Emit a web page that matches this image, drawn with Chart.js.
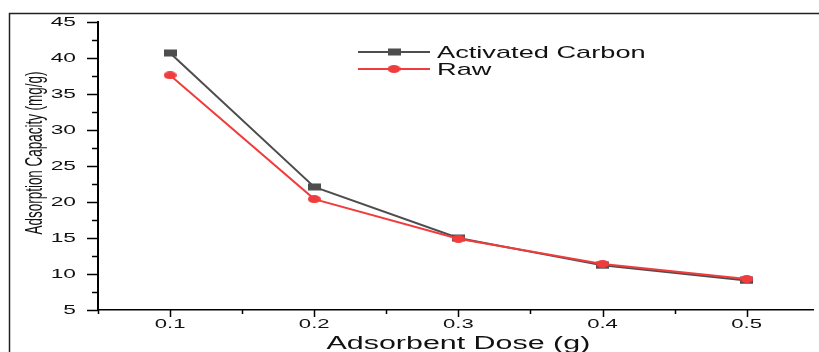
<html>
<head>
    <title>Adsorbent Dose</title>
    <style>
        body { margin: 0; background: #fff; }
        canvas { display: block; }
    </style>
    <script src="https://cdn.jsdelivr.net/npm/chart.js"></script>
</head>
<body>
    <canvas id="doseChart" width="819" height="352"></canvas>
    <script>
        // data
        var doses = [0.1, 0.2, 0.3, 0.4, 0.5];
        var activatedCarbon = [40.7, 22.1, 15.0, 11.2, 9.1];
        var raw = [37.6, 20.4, 14.9, 11.4, 9.3];
        var seriesNames = ['Activated Carbon', 'Raw'];
        var yTickLabels = [5, 10, 15, 20, 25, 30, 35, 40, 45];
        var xTickLabels = [0.1, 0.2, 0.3, 0.4, 0.5];
        var xTitle = 'Adsorbent Dose (g)';
        var yTitle = 'Adsorption Capacity (mg/g)';

        var grey = '#4d4d4d';
        var red = '#f03c3c';
        var font = "'Liberation Sans', Arial, sans-serif";

        // flattened markers, the figure is stretched sideways
        function marker(kind, color) {
            var c = document.createElement('canvas');
            c.width = 13; c.height = 8;
            var g = c.getContext('2d');
            g.fillStyle = color;
            if (kind === 'rect') {
                g.fillRect(0, 0.5, 13, 7);
            } else {
                g.beginPath();
                g.ellipse(6.5, 4, 6.5, 4, 0, 0, Math.PI * 2);
                g.fill();
            }
            return c;
        }
        var squareMark = marker('rect', grey);
        var roundMark = marker('circle', red);

        function points(ys) {
            return doses.map(function (d, i) { return { x: d, y: ys[i] }; });
        }

        function wideText(ctx, text, x, y, align, sx) {
            ctx.save();
            ctx.translate(x, y);
            ctx.scale(sx, 1);
            ctx.textAlign = align;
            ctx.fillText(text, 0, 0);
            ctx.restore();
        }

        var decorations = {
            id: 'decorations',
            afterDraw: function (chart) {
                var ctx = chart.ctx;
                var xs = chart.scales.x, ys = chart.scales.y;
                var area = chart.chartArea;
                ctx.save();

                // outer frame (cut off at right and bottom)
                ctx.strokeStyle = '#222';
                ctx.lineWidth = 1.5;
                ctx.beginPath();
                ctx.moveTo(9.5, 352);
                ctx.lineTo(9.5, 13.5);
                ctx.lineTo(819, 13.5);
                ctx.stroke();

                // ticks
                ctx.strokeStyle = '#000';
                ctx.lineWidth = 1.5;
                ctx.beginPath();
                for (var v = 5; v <= 45; v += 2.5) {
                    var py = Math.round(ys.getPixelForValue(v)) + 0.5;
                    var len = (v % 5 === 0) ? 11 : 6;
                    ctx.moveTo(area.left, py);
                    ctx.lineTo(area.left - len, py);
                }
                for (var k = 1; k <= 11; k++) {
                    var xv = k * 0.05;
                    if (xv > xs.max) break;
                    var px = Math.round(xs.getPixelForValue(xv)) + 0.5;
                    var l2 = (k % 2 === 0) ? 7 : 4;
                    ctx.moveTo(px, area.bottom);
                    ctx.lineTo(px, area.bottom + l2);
                }
                ctx.stroke();

                // tick labels
                ctx.fillStyle = '#111';
                ctx.font = '13px ' + font;
                ctx.textBaseline = 'middle';
                yTickLabels.forEach(function (t) {
                    wideText(ctx, String(t), 76, ys.getPixelForValue(t) + 0.5, 'right', 1.75);
                });
                xTickLabels.forEach(function (t) {
                    wideText(ctx, t.toFixed(1), xs.getPixelForValue(t), 324, 'center', 1.7);
                });

                // axis titles
                ctx.textBaseline = 'alphabetic';
                ctx.font = '18px ' + font;
                wideText(ctx, xTitle, xs.getPixelForValue(0.3), 349, 'center', 1.69);

                ctx.save();
                ctx.translate(35, 153);
                ctx.rotate(-Math.PI / 2);
                ctx.scale(0.84, 1.5);
                ctx.font = '16px ' + font;
                ctx.textAlign = 'center';
                ctx.textBaseline = 'middle';
                ctx.fillText(yTitle, 0, 0);
                ctx.restore();

                // legend
                var rows = [
                    { name: seriesNames[0], color: grey, mark: squareMark, y: 52 },
                    { name: seriesNames[1], color: red, mark: roundMark, y: 69 }
                ];
                rows.forEach(function (r) {
                    ctx.strokeStyle = r.color;
                    ctx.lineWidth = 2;
                    ctx.beginPath();
                    ctx.moveTo(358, r.y);
                    ctx.lineTo(430, r.y);
                    ctx.stroke();
                    ctx.drawImage(r.mark, 394 - 6.5, r.y - 4);
                    ctx.fillStyle = '#111';
                    ctx.font = '17px ' + font;
                    ctx.textBaseline = 'alphabetic';
                    wideText(ctx, r.name, 437, r.y + 6, 'left', 1.6);
                });

                ctx.restore();
            }
        };

        var ctx = document.getElementById('doseChart').getContext('2d');
        var doseChart = new Chart(ctx, {
            type: 'line',
            data: {
                datasets: [
                    {
                        label: seriesNames[0],
                        data: points(activatedCarbon),
                        borderColor: grey,
                        backgroundColor: grey,
                        borderWidth: 2,
                        pointStyle: squareMark,
                        order: 2
                    },
                    {
                        label: seriesNames[1],
                        data: points(raw),
                        borderColor: red,
                        backgroundColor: red,
                        borderWidth: 2,
                        pointStyle: roundMark,
                        order: 1
                    }
                ]
            },
            options: {
                responsive: false,
                animation: false,
                devicePixelRatio: 1,
                layout: { padding: { top: 22, left: 0, right: 0, bottom: 0 } },
                plugins: {
                    legend: { display: false },
                    tooltip: { enabled: false }
                },
                scales: {
                    x: {
                        type: 'linear',
                        min: 0.05,
                        max: 0.546,
                        ticks: { display: false },
                        grid: { display: false },
                        border: { display: true, color: '#000', width: 1.5 },
                        afterFit: function (s) { s.height = 42; }
                    },
                    y: {
                        min: 5,
                        max: 45,
                        ticks: { display: false },
                        grid: { display: false },
                        border: { display: true, color: '#000', width: 2 },
                        afterFit: function (s) { s.width = 98; }
                    }
                }
            },
            plugins: [decorations]
        });
    </script>
</body>
</html>
